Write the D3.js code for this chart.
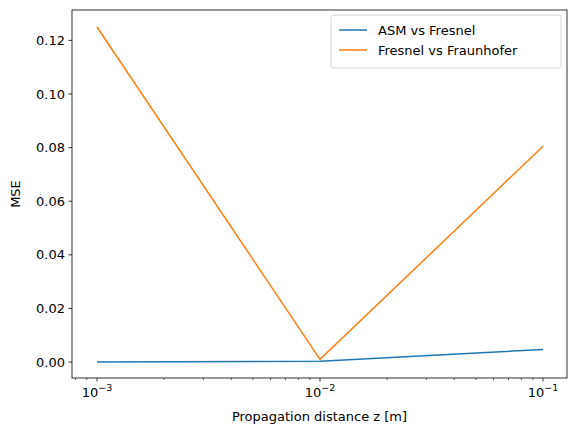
<!DOCTYPE html>
<html><head><meta charset="utf-8">
<script src="https://cdn.jsdelivr.net/npm/d3@7"></script>
<style>body{margin:0;background:#fff}text{font-family:"DejaVu Sans";fill:#000}</style>
</head><body>
<script>
const distances = [0.001, 0.01, 0.1];
const asmVsFresnel = [0.0, 0.0003, 0.0047];
const fresnelVsFraunhofer = [0.125, 0.001, 0.0805];
const yTicks = [0, 0.02, 0.04, 0.06, 0.08, 0.10, 0.12];
const xTicks = [0.001, 0.01, 0.1];
const xExps = ['−3', '−2', '−1'];
const series = [
  {name: 'ASM vs Fresnel', values: asmVsFresnel, color: '#1f77b4'},
  {name: 'Fresnel vs Fraunhofer', values: fresnelVsFraunhofer, color: '#ff7f0e'}
];

const w = 576, h = 435;
const L = 72, R = 567, T = 10, B = 378;
const svg = d3.select('body').append('svg').attr('width', w).attr('height', h);

const x = d3.scaleLog().domain([Math.pow(10, -3 - 25 / 223), Math.pow(10, -1 + 24 / 223)]).range([L, R]);
const y = d3.scaleLinear().domain([-0.00595, 0.13134]).range([B, T]);

const line = d3.line().x((d, i) => x(distances[i])).y(d => y(d));
series.forEach(s => {
  svg.append('path').datum(s.values).attr('d', line)
    .attr('fill', 'none').attr('stroke', s.color).attr('stroke-width', 1.5);
});

// frame
svg.append('rect').attr('x', L).attr('y', T).attr('width', R - L).attr('height', B - T)
  .attr('fill', 'none').attr('stroke', '#000').attr('stroke-width', 0.8);

// y axis
yTicks.forEach(v => {
  svg.append('line').attr('x1', L - 3.5).attr('x2', L).attr('y1', y(v)).attr('y2', y(v))
    .attr('stroke', '#000').attr('stroke-width', 0.8);
  svg.append('text').attr('x', L - 7).attr('y', y(v)).attr('dy', '0.35em')
    .attr('text-anchor', 'end').attr('font-size', 13).text(v.toFixed(2));
});

// x axis major + minor
const minors = [];
[-4, -3, -2, -1].forEach(e => { for (let k = 2; k <= 9; k++) minors.push(k * Math.pow(10, e)); });
minors.filter(v => x(v) >= L && x(v) <= R).forEach(v => {
  svg.append('line').attr('x1', x(v)).attr('x2', x(v)).attr('y1', B).attr('y2', B + 2)
    .attr('stroke', '#000').attr('stroke-width', 0.6);
});
xTicks.forEach((v, i) => {
  svg.append('line').attr('x1', x(v)).attr('x2', x(v)).attr('y1', B).attr('y2', B + 3.5)
    .attr('stroke', '#000').attr('stroke-width', 0.8);
  const t = svg.append('text').attr('x', x(v)).attr('y', B + 19).attr('text-anchor', 'middle').attr('font-size', 13);
  t.append('tspan').text('10');
  t.append('tspan').attr('dy', -6).attr('font-size', 9.5).text(xExps[i]);
});

svg.append('text').attr('x', (L + R) / 2).attr('y', 421).attr('text-anchor', 'middle')
  .attr('font-size', 13).text('Propagation distance z [m]');
svg.append('text').attr('transform', `translate(20,${(T + B) / 2}) rotate(-90)`)
  .attr('text-anchor', 'middle').attr('font-size', 13).text('MSE');

// legend
const lg = svg.append('g').attr('transform', 'translate(331,15)');
lg.append('rect').attr('width', 230).attr('height', 53).attr('rx', 3)
  .attr('fill', '#fff').attr('stroke', '#ccc').attr('stroke-width', 0.8);
series.forEach((s, i) => {
  const yy = 15 + i * 20;
  lg.append('line').attr('x1', 8).attr('x2', 36).attr('y1', yy).attr('y2', yy)
    .attr('stroke', s.color).attr('stroke-width', 1.5);
  lg.append('text').attr('x', 47).attr('y', yy).attr('dy', '0.35em').attr('font-size', 13).text(s.name);
});
</script>
</body></html>
